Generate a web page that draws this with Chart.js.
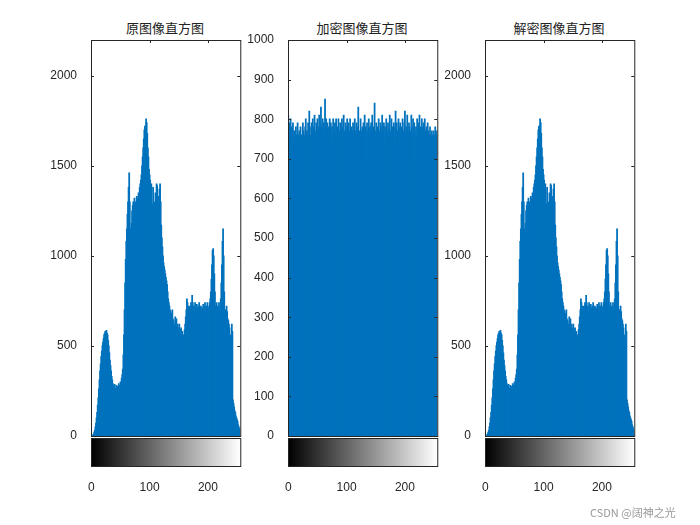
<!DOCTYPE html>
<html><head><meta charset="utf-8">
<script src="https://cdn.jsdelivr.net/npm/chart.js@4/dist/chart.umd.min.js"></script>
<style>
body{margin:0;background:#fff;width:700px;height:525px;position:relative;overflow:hidden;font-family:"Liberation Sans",Arial,sans-serif}
.box{position:absolute;top:0;width:230px;height:500px}
.ttl{position:absolute;top:18px;width:148px;text-align:center;font:13px "Noto Sans CJK SC";color:#222}
.wm{position:absolute;left:590px;top:504px;font:11px "Noto Sans CJK SC";color:#999}
</style></head><body>
<div class="ttl" style="left:91px">原图像直方图</div>
<div class="ttl" style="left:288px">加密图像直方图</div>
<div class="ttl" style="left:485px">解密图像直方图</div>
<div class="box" style="left:46px"><canvas id="c1"></canvas></div>
<div class="box" style="left:243px"><canvas id="c2"></canvas></div>
<div class="box" style="left:440px"><canvas id="c3"></canvas></div>
<div class="wm">CSDN @阔神之光</div>
<script>
const grayLevels = Array.from({length: 256}, (_, i) => i);
const xTickLabels = [0, 100, 200];
const yTicksCount = [0, 500, 1000, 1500, 2000];
const yTicksEncrypted = [0, 100, 200, 300, 400, 500, 600, 700, 800, 900, 1000];

const originalCounts = [
0,0,0,5,10,20,30,50,70,100,130,170,210,260,310,360,
400,440,470,500,520,540,560,570,580,575,585,570,560,530,500,460,
420,390,360,330,310,290,280,270,285,265,260,280,255,275,270,290,
265,280,300,290,320,340,370,450,560,700,850,980,1080,1150,1230,1300,
1380,1460,1300,1150,1130,1180,1250,1280,1300,1250,1320,1280,1300,1260,1330,1310,
1320,1350,1300,1380,1400,1420,1450,1500,1550,1600,1650,1700,1720,1700,1760,1740,
1680,1600,1550,1480,1450,1420,1300,1400,1260,1290,1380,1270,1300,1260,1350,1280,
1400,1390,1300,1260,1330,1370,1400,1300,1170,1100,1050,1000,960,940,920,900,
880,860,840,800,760,740,720,700,690,680,670,700,650,640,620,600,
660,610,650,580,620,600,570,620,590,560,600,570,580,560,540,560,
590,620,660,700,760,740,720,700,690,720,680,740,720,780,740,700,
720,680,740,700,680,730,710,690,720,740,700,680,720,700,710,690,
730,720,700,740,690,720,700,740,710,680,720,740,760,800,870,950,
1030,1040,1000,900,800,720,700,740,700,720,690,740,700,720,760,850,
950,1080,1150,1000,800,700,680,700,720,690,650,640,620,600,560,540,
520,620,580,200,180,160,140,130,110,100,90,80,60,50,40,30];

const encryptedCounts = [
810,770,790,760,800,745,780,760,790,740,770,755,730,780,760,745,
790,760,740,770,750,780,730,760,745,790,770,760,740,780,800,760,
770,750,790,760,820,780,760,740,790,770,800,760,780,810,770,750,
790,760,800,780,770,810,760,790,830,780,760,800,770,790,760,850,
780,800,760,790,770,780,760,800,770,790,740,780,760,800,770,750,
790,770,800,760,780,740,800,770,760,790,780,770,800,760,780,810,
770,750,790,760,780,800,760,790,740,770,800,760,780,750,770,790,
760,780,800,740,770,790,760,780,830,760,770,750,800,770,740,780,
760,790,770,810,760,780,700,790,770,760,800,750,780,760,790,770,
810,760,780,740,840,770,760,790,750,780,760,800,770,740,790,760,
780,810,760,770,790,740,780,760,800,770,750,790,760,780,810,770,
760,800,690,780,760,790,740,780,820,760,790,770,750,800,760,780,
790,760,780,700,800,770,760,790,820,760,780,740,810,770,760,790,
780,770,760,810,780,750,800,760,790,770,700,780,760,800,770,790,
760,810,740,780,770,800,760,780,790,760,800,770,740,780,760,790,
770,760,740,780,760,750,770,760,730,770,740,760,780,750,760,770];

const decryptedCounts = originalCounts.slice();

const frame = {
  id: 'frame',
  afterDraw(chart) {
    const {ctx, chartArea: a, scales} = chart;
    ctx.save();
    ctx.strokeStyle = '#262626';
    ctx.lineWidth = 1;
    ctx.strokeRect(a.left + 0.5, a.top + 0.5, a.right - a.left, a.bottom - a.top);
    scales.y.ticks.forEach(t => {
      const y = Math.round(scales.y.getPixelForValue(t.value)) + 0.5;
      ctx.beginPath();
      ctx.moveTo(a.left, y); ctx.lineTo(a.left + 3, y);
      ctx.moveTo(a.right, y); ctx.lineTo(a.right - 3, y);
      ctx.stroke();
    });
    xTickLabels.forEach(v => {
      const x = Math.round(scales.x.getPixelForValue(v)) + 0.5;
      ctx.beginPath();
      ctx.moveTo(x, a.top); ctx.lineTo(x, a.top + 3);
      ctx.stroke();
    });
    const g = ctx.createLinearGradient(a.left, 0, a.right, 0);
    g.addColorStop(0, '#000'); g.addColorStop(1, '#fff');
    ctx.fillStyle = g;
    ctx.fillRect(a.left, a.bottom + 2, a.right - a.left, 28);
    ctx.strokeRect(a.left + 0.5, a.bottom + 2.5, a.right - a.left, 28);
    ctx.restore();
  }
};

function drawHist(id, counts, yMax, yTicks) {
  new Chart(document.getElementById(id), {
    type: 'bar',
    data: {
      labels: grayLevels,
      datasets: [{data: counts, backgroundColor: '#0072BD', barPercentage: 1, categoryPercentage: 1,
        borderWidth: 0, inflateAmount: 0.6}]
    },
    options: {
      responsive: false, animation: false,
      layout: {padding: {top: 40, right: 10, left: 0, bottom: 0}},
      plugins: {legend: {display: false}, tooltip: {enabled: false}},
      scales: {
        x: {
          grid: {display: false}, border: {display: false},
          ticks: {autoSkip: false, maxRotation: 0, padding: 36, color: '#262626',
            font: {family: 'Liberation Sans', size: 12},
            callback: (v, i) => xTickLabels.includes(i) ? String(i) : ''},
          afterFit: s => { s.height = 64; }
        },
        y: {
          min: 0, max: yMax,
          grid: {display: false}, border: {display: false},
          afterBuildTicks: s => { s.ticks = yTicks.map(v => ({value: v})); },
          ticks: {padding: 6, color: '#262626', font: {family: 'Liberation Sans', size: 12},
            callback: v => String(v)},
          afterFit: s => { s.width = 45; }
        }
      }
    },
    plugins: [frame]
  });
}

document.querySelectorAll('canvas').forEach(c => { c.width = 230; c.height = 500; });
drawHist('c1', originalCounts, 2200, yTicksCount);
drawHist('c2', encryptedCounts, 1000, yTicksEncrypted);
drawHist('c3', decryptedCounts, 2200, yTicksCount);
</script>
</body></html>
